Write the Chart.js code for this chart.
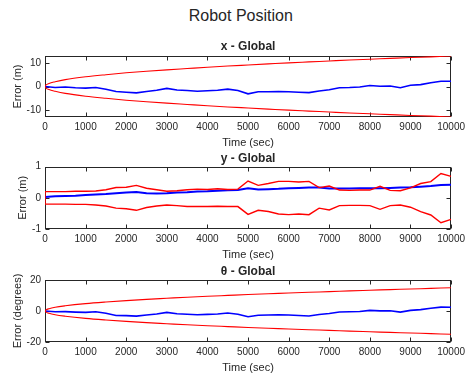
<!DOCTYPE html>
<html>
<head>
<meta charset="utf-8">
<script src="https://cdn.jsdelivr.net/npm/chart.js@4/dist/chart.umd.min.js"></script>
<style>
  body { margin: 0; background: #fff; }
  #wrap { position: relative; width: 469px; height: 377px; }
  #wrap canvas { position: absolute; left: 0; }
  #suptitle {
    position: absolute; top: 6px; left: 240.8px; transform: translateX(-50%);
    font: 16px "Liberation Sans", Arial, Helvetica, sans-serif; line-height: 19px;
    color: #262626; white-space: nowrap;
  }
</style>
</head>
<body>
<div id="wrap">
  <div id="suptitle">Robot Position</div>
  <canvas id="cx" width="469" height="150" style="top:0px"></canvas>
  <canvas id="cy" width="469" height="112" style="top:150px"></canvas>
  <canvas id="ct" width="469" height="113" style="top:262px"></canvas>
</div>
<script>
// sample times (sec) of the estimate error traces
const time = [0, 250, 500, 750, 1000, 1250, 1500, 1750, 2000, 2250, 2500, 2750, 3000, 3250, 3500, 3750,
  4000, 4250, 4500, 4750, 5000, 5250, 5500, 5750, 6000, 6250, 6500, 6750, 7000, 7250, 7500, 7750,
  8000, 8250, 8500, 8750, 9000, 9250, 9500, 9750, 10000];

// error in x (m)
const xErr = [0, -0.4, -0.2, -0.5, -0.7, -0.4, -1.2, -2.1, -2.4, -2.7, -2.1, -1.6, -0.8, -1.5, -1.7, -2.0,
  -1.8, -1.6, -1.1, -1.7, -3.1, -2.2, -2.2, -2.1, -2.2, -2.4, -2.6, -1.9, -1.4, -0.5, -0.4, -0.2,
  0.4, 0.1, 0.2, -0.5, 0.5, 0.8, 1.6, 2.2, 2.2];

// error in y (m)
const yErr = [0.03, 0.05, 0.06, 0.07, 0.09, 0.11, 0.12, 0.15, 0.17, 0.19, 0.15, 0.14, 0.15, 0.17, 0.18, 0.20,
  0.21, 0.23, 0.24, 0.25, 0.31, 0.27, 0.28, 0.29, 0.31, 0.32, 0.33, 0.33, 0.30, 0.30, 0.30, 0.31,
  0.31, 0.31, 0.32, 0.33, 0.34, 0.36, 0.38, 0.41, 0.42];

// error in heading (degrees)
const thetaErr = [0, -0.5, -0.4, -0.7, -0.9, -0.5, -1.5, -2.9, -3.0, -3.3, -2.6, -1.9, -0.9, -1.8, -2.1, -2.4,
  -2.2, -1.9, -1.3, -2.1, -3.7, -2.7, -2.6, -2.5, -2.6, -2.9, -3.2, -2.3, -1.6, -0.6, -0.5, -0.3,
  0.4, 0.1, 0.2, -0.7, 0.4, 0.9, 1.8, 2.5, 2.4];

// 3-sigma bounds for x and theta
const boundTime = [0, 25, 100, 250, 500, 1000, 1500, 2000, 2500, 3000, 3500, 4000, 4500, 5000, 5500,
  6000, 6500, 7000, 7500, 8000, 8500, 9000, 9500, 10000];
const xUpper = [0, 0.65, 1.3, 2.0, 2.9, 4.1, 5.0, 5.8, 6.45, 7.05, 7.6, 8.15, 8.65, 9.1, 9.55,
  10.0, 10.4, 10.8, 11.2, 11.55, 11.9, 12.25, 12.55, 12.9];
const xLower = [0, -0.65, -1.3, -2.0, -2.9, -4.1, -5.0, -5.8, -6.45, -7.05, -7.6, -8.15, -8.65, -9.1, -9.55,
  -10.0, -10.4, -10.8, -11.2, -11.55, -11.9, -12.25, -12.55, -12.9];
const thetaUpper = [0, 0.75, 1.5, 2.4, 3.35, 4.75, 5.8, 6.7, 7.5, 8.2, 8.9, 9.5, 10.05, 10.6, 11.1,
  11.6, 12.1, 12.5, 13.0, 13.4, 13.8, 14.2, 14.6, 15.0];
const thetaLower = [0, -0.75, -1.5, -2.4, -3.35, -4.75, -5.8, -6.7, -7.5, -8.2, -8.9, -9.5, -10.05, -10.6, -11.1,
  -11.6, -12.1, -12.5, -13.0, -13.4, -13.8, -14.2, -14.6, -15.0];

// bounds for y (jump from 0 to 0.2 right at the start)
const yBoundTime = [0, 1, 250, 500, 750, 1000, 1250, 1500, 1750, 2000, 2250, 2500, 2750, 3000, 3250, 3500, 3750,
  4000, 4250, 4500, 4750, 5000, 5250, 5500, 5750, 6000, 6250, 6500, 6750, 7000, 7250, 7500, 7750,
  8000, 8250, 8500, 8750, 9000, 9250, 9500, 9750, 10000];
const yUpper = [0, 0.2, 0.2, 0.2, 0.21, 0.21, 0.22, 0.26, 0.33, 0.34, 0.40, 0.31, 0.26, 0.21, 0.23, 0.26, 0.28,
  0.27, 0.29, 0.27, 0.28, 0.54, 0.40, 0.46, 0.53, 0.53, 0.51, 0.53, 0.33, 0.38, 0.25, 0.24, 0.25,
  0.25, 0.37, 0.24, 0.23, 0.32, 0.46, 0.52, 0.78, 0.69];
const yLower = [0, -0.2, -0.2, -0.2, -0.21, -0.21, -0.23, -0.26, -0.33, -0.35, -0.40, -0.31, -0.26, -0.23, -0.25, -0.28, -0.28,
  -0.28, -0.27, -0.28, -0.28, -0.53, -0.40, -0.44, -0.52, -0.54, -0.52, -0.54, -0.33, -0.39, -0.25, -0.24, -0.24,
  -0.25, -0.37, -0.25, -0.23, -0.30, -0.44, -0.55, -0.80, -0.69];

// axis ticks
const timeTicks = [0, 1000, 2000, 3000, 4000, 5000, 6000, 7000, 8000, 9000, 10000];
const xTicks = [-10, 0, 10];
const yTicks = [-1, 0, 1];
const thetaTicks = [-20, 0, 20];

const AXIS = '#262626';
Chart.defaults.font.family = '"Liberation Sans", Arial, Helvetica, sans-serif';
Chart.defaults.color = AXIS;

function pts(xs, ys) {
  return xs.map((x, i) => ({ x: x, y: ys[i] }));
}

// box around the axes with inward tick marks on all four sides
const axesBox = {
  id: 'axesBox',
  beforeDatasetsDraw(chart) {
    const { ctx, chartArea: a, scales } = chart;
    const L = Math.round(a.left) + 0.5, R = Math.round(a.right) - 0.5;
    const T = Math.round(a.top) + 0.5, B = Math.round(a.bottom) - 0.5;
    const len = 4;
    ctx.save();
    ctx.strokeStyle = AXIS;
    ctx.lineWidth = 1;
    ctx.strokeRect(L, T, R - L, B - T);
    ctx.beginPath();
    scales.x.ticks.forEach(t => {
      const px = Math.round(scales.x.getPixelForValue(t.value)) + 0.5;
      ctx.moveTo(px, B); ctx.lineTo(px, B - len);
      ctx.moveTo(px, T); ctx.lineTo(px, T + len);
    });
    scales.y.ticks.forEach(t => {
      const py = Math.round(scales.y.getPixelForValue(t.value)) + 0.5;
      ctx.moveTo(L, py); ctx.lineTo(L + len, py);
      ctx.moveTo(R, py); ctx.lineTo(R - len, py);
    });
    ctx.stroke();
    ctx.restore();
  }
};

function makePanel(id, cfg) {
  const ctx = document.getElementById(id).getContext('2d');
  return new Chart(ctx, {
    type: 'line',
    data: { datasets: cfg.datasets },
    options: {
      responsive: false,
      animation: false,
      layout: { padding: { left: 0, right: 14, top: 0, bottom: 0 } },
      elements: { point: { radius: 0 } },
      plugins: {
        legend: { display: false },
        tooltip: { enabled: false },
        title: {
          display: true,
          fullSize: false,
          text: cfg.title,
          color: AXIS,
          font: { size: 12, weight: 'bold', lineHeight: 1.2 },
          padding: cfg.titlePad
        }
      },
      scales: {
        x: {
          type: 'linear',
          min: 0,
          max: 10000,
          grid: { display: false, drawTicks: false },
          border: { display: false },
          afterBuildTicks: s => { s.ticks = timeTicks.map(v => ({ value: v })); },
          afterFit: s => { s.height = 33; },
          ticks: { font: { size: 10 }, padding: 4, maxRotation: 0, autoSkip: false, callback: v => String(v) },
          title: { display: true, text: 'Time (sec)', font: { size: 11, lineHeight: 1.2 }, padding: { top: 0, bottom: 0.4 } }
        },
        y: {
          type: 'linear',
          min: cfg.yMin,
          max: cfg.yMax,
          grid: { display: false, drawTicks: false },
          border: { display: false },
          afterBuildTicks: s => { s.ticks = cfg.yTicks.map(v => ({ value: v })); },
          afterFit: s => { s.width = 45; },
          ticks: { font: { size: 10 }, padding: 4, autoSkip: false, callback: v => String(v) },
          title: { display: true, text: cfg.yLabel, font: { size: 11, lineHeight: 1.2 }, padding: { top: cfg.yLabelPad, bottom: 0 } }
        }
      }
    },
    plugins: [axesBox]
  });
}

function line(data, color, width, smooth) {
  return {
    data: data,
    borderColor: color,
    borderWidth: width,
    fill: false,
    cubicInterpolationMode: smooth ? 'monotone' : 'default',
    tension: 0
  };
}

makePanel('cx', {
  title: 'x - Global',
  titlePad: { top: 39.5, bottom: 2.1 },
  yMin: -12.9, yMax: 12.9, yTicks: xTicks,
  yLabel: 'Error (m)', yLabelPad: 11.4,
  datasets: [
    line(pts(boundTime, xUpper), '#ff0000', 1.1, true),
    line(pts(boundTime, xLower), '#ff0000', 1.1, true),
    line(pts(time, xErr), '#0000ff', 1.6, false)
  ]
});

makePanel('cy', {
  title: 'y - Global',
  titlePad: { top: 1.8, bottom: 0.5 },
  yMin: -1, yMax: 1, yTicks: yTicks,
  yLabel: 'Error (m)', yLabelPad: 16.4,
  datasets: [
    line(pts(yBoundTime, yUpper), '#ff0000', 1.4, false),
    line(pts(yBoundTime, yLower), '#ff0000', 1.4, false),
    line(pts(time, yErr), '#0000ff', 2, false)
  ]
});

makePanel('ct', {
  title: 'θ - Global',
  titlePad: { top: 2.5, bottom: 1.1 },
  yMin: -20, yMax: 20, yTicks: thetaTicks,
  yLabel: 'Error (degrees)', yLabelPad: 11.4,
  datasets: [
    line(pts(boundTime, thetaUpper), '#ff0000', 1.1, true),
    line(pts(boundTime, thetaLower), '#ff0000', 1.1, true),
    line(pts(time, thetaErr), '#0000ff', 1.6, false)
  ]
});
</script>
</body>
</html>
